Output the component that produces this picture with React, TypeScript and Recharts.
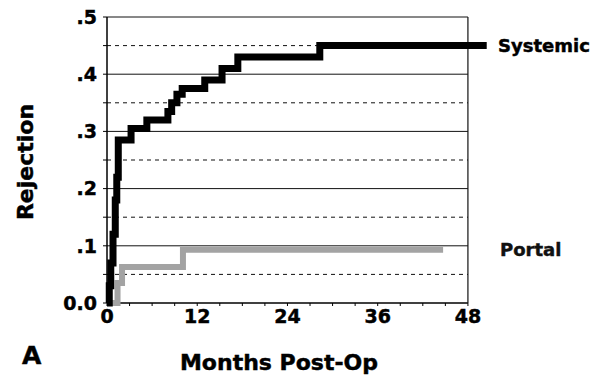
import React from 'react';
import { LineChart, Line, XAxis, YAxis, ReferenceLine, ReferenceDot } from 'recharts';

// Systemic rejection (step curve)
const systemicMonths = [0, 0.3, 0.5, 0.8, 1.1, 1.3, 1.5, 3.2, 5.3, 8.1, 8.6, 9.3, 10.0, 13.0, 15.3, 17.4, 28.3, 50.5];
const systemicValues = [0, 0.03, 0.07, 0.12, 0.18, 0.22, 0.285, 0.305, 0.32, 0.335, 0.35, 0.365, 0.375, 0.39, 0.41, 0.43, 0.45, 0.45];

// Portal rejection (step curve)
const portalMonths = [0, 1.4, 2.0, 10.1, 44.7];
const portalValues = [0, 0.035, 0.063, 0.093, 0.093];

const xTicks = [0, 3, 6, 9, 12, 15, 18, 21, 24, 27, 30, 33, 36, 39, 42, 45, 48];
const xTickLabels = ['0', '12', '24', '36', '48'];
const yTicks = [0, 0.05, 0.1, 0.15, 0.2, 0.25, 0.3, 0.35, 0.4, 0.45, 0.5];
const yTickLabels = ['0.0', '.1', '.2', '.3', '.4', '.5'];
const solidGrid = [0.1, 0.2, 0.3, 0.4];
const dashedGrid = [0.05, 0.15, 0.25, 0.35, 0.45];

const seriesNames = ['Systemic', 'Portal'];

const systemicData = systemicMonths.map((m, i) => ({ m, v: systemicValues[i] }));
const portalData = portalMonths.map((m, i) => ({ m, v: portalValues[i] }));

const FONT = '"DejaVu Sans", Arial, sans-serif';
const X_MAX = 48;
const Y_MAX = 0.5;
const TEXT_STROKE = 0.45;

const XTick = (props: any) => {
  const { x, y, payload } = props;
  const v = payload.value;
  const idx = v % 12 === 0 ? v / 12 : -1;
  if (idx < 0) return <g />;
  return (
    <text x={x} y={y} dy="0.71em" textAnchor="middle" fontFamily={FONT} fontWeight="bold" fontSize={19} fill="#000" stroke="#000" strokeWidth={TEXT_STROKE}>
      {xTickLabels[idx]}
    </text>
  );
};

const YTick = (props: any) => {
  const { x, y, payload } = props;
  const hundred = Math.round(payload.value * 100);
  if (hundred % 10 !== 0) return <g />;
  return (
    <text x={x} y={y} dy="0.355em" textAnchor="end" fontFamily={FONT} fontWeight="bold" fontSize={19} fill="#000" stroke="#000" strokeWidth={TEXT_STROKE}>
      {yTickLabels[hundred / 10]}
    </text>
  );
};

const XLabel = () => (
  <g>
    <text x={279} y={370} textAnchor="middle" fontFamily={FONT} fontWeight="bold" fontSize={22} fill="#000" stroke="#000" strokeWidth={TEXT_STROKE}>
      Months Post-Op
    </text>
    <text x={22} y={364} textAnchor="start" fontFamily={FONT} fontWeight="bold" fontSize={25} fill="#000" stroke="#000" strokeWidth={TEXT_STROKE}>
      A
    </text>
  </g>
);

const YLabel = () => (
  <text
    x={33}
    y={162}
    transform="rotate(-90, 33, 162)"
    textAnchor="middle"
    fontFamily={FONT}
    fontWeight="bold"
    fontSize={22}
    fill="#000"
    stroke="#000"
    strokeWidth={TEXT_STROKE}
  >
    Rejection
  </text>
);

export default function App() {
  return (
    <div style={{ position: 'fixed', left: 0, top: 0, width: 597, height: 387, background: '#fff' }}>
      <LineChart width={597} height={387} margin={{ top: 17, right: 99, left: 47, bottom: 54 }}>
        <XAxis
          type="number"
          dataKey="m"
          domain={[0, 52]}
          ticks={xTicks}
          interval={0}
          axisLine={false}
          tickLine={{ stroke: '#000', strokeWidth: 1 }}
          tickSize={3}
          tickMargin={4}
          tick={XTick}
          height={30}
          label={XLabel}
        />
        <YAxis
          type="number"
          domain={[0, Y_MAX]}
          ticks={yTicks}
          interval={0}
          axisLine={{ stroke: '#000', strokeWidth: 1.5 }}
          tickLine={{ stroke: '#000', strokeWidth: 1 }}
          tickSize={4}
          tickMargin={6}
          tick={YTick}
          width={60}
          label={YLabel}
        />
        {dashedGrid.map((g) => (
          <ReferenceLine
            key={'d' + g}
            segment={[{ x: 0, y: g }, { x: X_MAX, y: g }]}
            stroke="#111"
            strokeWidth={1}
            strokeDasharray="4 4"
          />
        ))}
        {solidGrid.map((g) => (
          <ReferenceLine key={'s' + g} segment={[{ x: 0, y: g }, { x: X_MAX, y: g }]} stroke="#111" strokeWidth={1} />
        ))}
        <ReferenceLine segment={[{ x: 0, y: Y_MAX }, { x: X_MAX, y: Y_MAX }]} stroke="#111" strokeWidth={1} />
        <ReferenceLine segment={[{ x: 0, y: 0 }, { x: X_MAX, y: 0 }]} stroke="#000" strokeWidth={1.5} />
        <ReferenceLine segment={[{ x: X_MAX, y: 0 }, { x: X_MAX, y: Y_MAX }]} stroke="#111" strokeWidth={1.2} />
        <Line
          data={portalData}
          dataKey="v"
          type="stepAfter"
          stroke="#a3a3a3"
          strokeWidth={6}
          strokeLinejoin="miter"
          strokeLinecap="butt"
          dot={false}
          isAnimationActive={false}
        />
        <Line
          data={systemicData}
          dataKey="v"
          type="stepAfter"
          stroke="#000"
          strokeWidth={7}
          strokeLinejoin="miter"
          strokeLinecap="butt"
          dot={false}
          isAnimationActive={false}
        />
        <ReferenceDot
          x={52}
          y={systemicValues[systemicValues.length - 1]}
          r={0}
          fill="none"
          stroke="none"
          label={{ value: seriesNames[0], position: 'right', offset: 0, fill: '#000', stroke: '#000', strokeWidth: TEXT_STROKE, fontSize: 18, fontWeight: 'bold', fontFamily: FONT }}
        />
        <ReferenceDot
          x={52}
          y={portalValues[portalValues.length - 1]}
          r={0}
          fill="none"
          stroke="none"
          label={{ value: seriesNames[1], position: 'right', offset: 2, fill: '#111', stroke: '#111', strokeWidth: TEXT_STROKE, fontSize: 18, fontWeight: 'bold', fontFamily: FONT }}
        />
      </LineChart>
    </div>
  );
}
